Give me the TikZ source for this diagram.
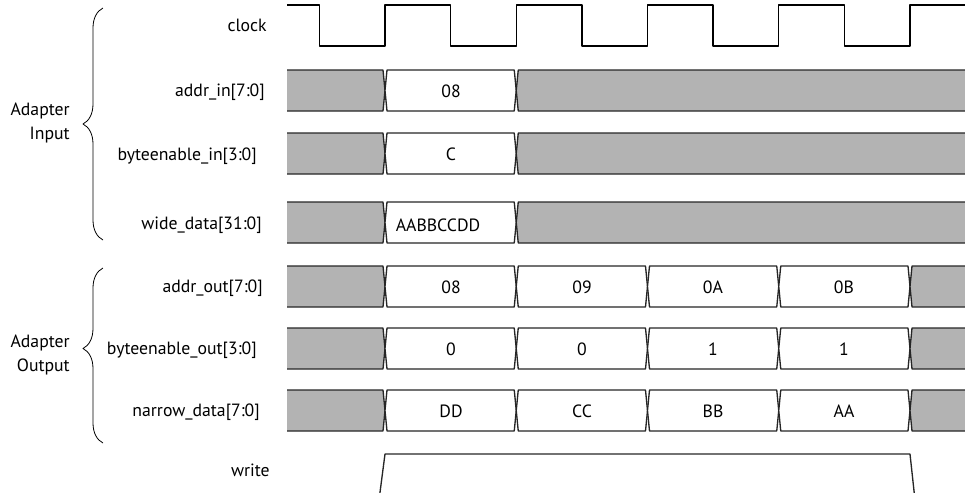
\documentclass[tikz,border=0pt]{standalone}
\usepackage{fontspec}
\setmainfont{PT Sans}
\usepackage{tikz}
\usetikzlibrary{decorations.pathreplacing}
\definecolor{busgray}{RGB}{179,179,179}

\begin{document}
\begin{tikzpicture}[x=0.75pt, y=-0.75pt, line join=round,
    sig/.style={draw=black!85, line width=1pt},
    idle/.style={fill=busgray},
    lbl/.style={anchor=east, inner sep=0pt, font=\fontsize{13.3}{14}\selectfont},
    val/.style={inner sep=0pt, font=\fontsize{13.3}{14}\selectfont},
    grp/.style={anchor=east, align=right, inner sep=0pt, font=\fontsize{13.3}{18}\selectfont},
    brc/.style={decorate, decoration={brace, amplitude=15pt, #1}, line width=0.6pt},
    brc/.default={aspect=0.5}]
  \useasboundingbox (0,0) rectangle (965,493);
  \clip (0,0) rectangle (965,493);

  % Signal names
  \node[lbl] (clk)  at (267,25)  {clock};
  \node[lbl] (ain)  at (265,92)  {addr\_in[7:0]};
  \node[lbl] (bin)  at (257,156) {byteenable\_in[3:0]};
  \node[lbl] (win)  at (262,225) {wide\_data[31:0]};
  \node[lbl] (aout) at (263,288) {addr\_out[7:0]};
  \node[lbl] (bout) at (257,350) {byteenable\_out[3:0]};
  \node[lbl] (nout) at (260,412) {narrow\_data[7:0]};
  \node[lbl] (wr)   at (270,470) {write};

  % Groups with braces
  \node[grp] (grpin)  at (70,123) {Adapter\\Input};
  \node[grp] (grpout) at (70,355) {Adapter\\Output};
  \draw[brc] (103,240) -- (103,8);
  \draw[brc={aspect=0.54}] (103,443) -- (103,268);

  % Clock
  \draw[sig, draw=black] (287,5)
    \foreach \k in {0,...,4} {
      -- (319.4+131.25*\k,5) -- (319.4+131.25*\k,46)
      -- (385+131.25*\k,46) -- (385+131.25*\k,5)
    } -- (970,5);

  % Adapter input: one valid cycle
  \foreach \t in {70,133,202} {
    \fill[idle] (287,\t) -- (383,\t) -- (385,\t+20.5) -- (383,\t+41) -- (287,\t+41) -- cycle;
    \draw[sig] (287,\t) -- (383,\t) -- (385,\t+20.5) -- (383,\t+41) -- (287,\t+41);
    \draw[sig, fill=white] (387,\t) -- (514.25,\t) -- (516.25,\t+20.5)
      -- (514.25,\t+41) -- (387,\t+41) -- (385,\t+20.5) -- cycle;
    \fill[idle] (518.25,\t) -- (970,\t) -- (970,\t+41) -- (518.25,\t+41) -- (516.25,\t+20.5) -- cycle;
    \draw[sig] (970,\t) -- (518.25,\t) -- (516.25,\t+20.5) -- (518.25,\t+41) -- (970,\t+41);
  }

  % Adapter output: four narrow cycles
  \foreach \t in {266,328,390} {
    \fill[idle] (287,\t) -- (383,\t) -- (385,\t+20.5) -- (383,\t+41) -- (287,\t+41) -- cycle;
    \draw[sig] (287,\t) -- (383,\t) -- (385,\t+20.5) -- (383,\t+41) -- (287,\t+41);
    \foreach \a in {385,516.25,647.5,778.75} {
      \draw[sig, fill=white] (\a+2,\t) -- (\a+129.25,\t) -- (\a+131.25,\t+20.5)
        -- (\a+129.25,\t+41) -- (\a+2,\t+41) -- (\a,\t+20.5) -- cycle;
    }
    \fill[idle] (912,\t) -- (970,\t) -- (970,\t+41) -- (912,\t+41) -- (910,\t+20.5) -- cycle;
    \draw[sig] (970,\t) -- (912,\t) -- (910,\t+20.5) -- (912,\t+41) -- (970,\t+41);
  }

  % Write strobe
  \draw[sig] (379,500) -- (385,454) -- (910,454) -- (915,500);

  % Bus values
  \node[val] (ainv)  at (451,91)  {08};
  \node[val] (binv)  at (451,154) {C};
  \node[val] (winv)  at (438,225) {AABBCCDD};
  \node[val] (aout1) at (451,287) {08};
  \node[val] (aout2) at (582,287) {09};
  \node[val] (aout3) at (713,287) {0A};
  \node[val] (aout4) at (844,287) {0B};
  \node[val] (bout1) at (451,349) {0};
  \node[val] (bout2) at (582,349) {0};
  \node[val] (bout3) at (713,349) {1};
  \node[val] (bout4) at (844,349) {1};
  \node[val] (nout1) at (451,411) {DD};
  \node[val] (nout2) at (582,411) {CC};
  \node[val] (nout3) at (713,411) {BB};
  \node[val] (nout4) at (844,411) {AA};
\end{tikzpicture}
\end{document}
